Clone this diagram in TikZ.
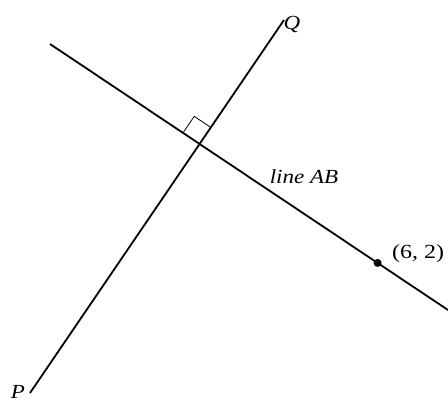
\documentclass[tikz,border=0pt]{standalone}
\usepackage{fontspec}
\setmainfont{Liberation Serif}
\usetikzlibrary{calc}
\begin{document}
\begin{tikzpicture}[x=1pt,y=-1pt,
  mainline/.style={line width=1.8pt,black},
  marker/.style={line width=0.8pt,black},
  lbl/.style={font=\fontsize{20}{22}\selectfont\itshape,inner sep=0pt,xscale=1.15},
  numlbl/.style={font=\fontsize{20}{22}\selectfont,inner sep=0pt,xscale=1.2}]
\useasboundingbox (0,0) rectangle (448,405);
\coordinate (A) at (50,44);
\coordinate (B) at (448,310);
\coordinate (P) at (30,393);
\coordinate (Q) at (284,20);
\coordinate (O) at (intersection of A--B and P--Q);
\coordinate (D) at ($(A)!0.823!(B)$);
\draw[mainline] (A) -- (B);
\draw[mainline] (P) -- (Q);
\draw[marker] ($(O)!20pt!(A)$) -- ($(O)!20pt!(A)+(O)!20pt!(Q)-(O)$) -- ($(O)!20pt!(Q)$);
\fill (D) circle (4pt);
\node[lbl] (ql) at (292,24) {Q};
\node[lbl] (pl) at (18,392) {P};
\node[lbl] (abl) at (304,177) {line AB};
\node[numlbl] (dl) at (418,254) {(6, 2)};
\end{tikzpicture}
\end{document}
